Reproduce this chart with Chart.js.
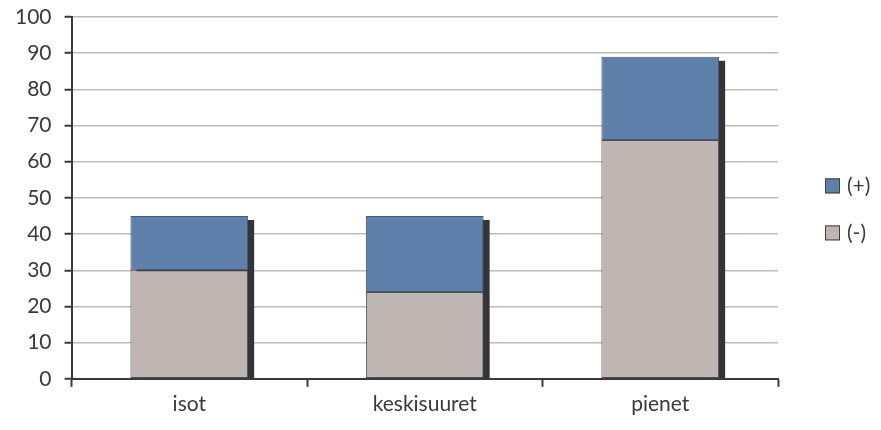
<!DOCTYPE html>
<html>
<head>
<meta charset="utf-8">
<script src="https://cdn.jsdelivr.net/npm/chart.js@4/dist/chart.umd.min.js"></script>
<style>
  html, body { margin: 0; padding: 0; background: #ffffff; }
  #wrap { width: 881px; height: 430px; }
</style>
</head>
<body>
<div id="wrap"><canvas id="c" width="881" height="430"></canvas></div>
<script>
// Company size groups and the split of answers in each group
const categories = ['isot', 'keskisuuret', 'pienet'];
const negativeValues = [30, 24, 66];   // (-)
const positiveValues = [15, 21, 23];   // (+)
const yTicks = { min: 0, max: 100, step: 10 };

const TEXT = '#3a3a3a';
const AXIS = '#3a3a3e';
const FONT = { family: 'Lato', size: 21 };

// Dark drop shadow behind each stacked column
const columnShadow = {
  id: 'columnShadow',
  beforeDatasetsDraw(chart) {
    const ctx = chart.ctx;
    const first = chart.getDatasetMeta(0).data;
    const last = chart.getDatasetMeta(chart.data.datasets.length - 1).data;
    ctx.save();
    ctx.fillStyle = '#333338';
    first.forEach((bottomBar, i) => {
      const topBar = last[i];
      const left = bottomBar.x - bottomBar.width / 2 + 6;
      const top = topBar.y + 4;
      ctx.fillRect(left, top, bottomBar.width, bottomBar.base - top);
    });
    ctx.restore();
  }
};

// Legend at the right, listed top segment first
const sideLegend = {
  id: 'sideLegend',
  afterDraw(chart) {
    const ctx = chart.ctx;
    const area = chart.chartArea;
    const items = chart.data.datasets.slice().reverse();
    const x = area.right + 47;
    const midY = (area.top + area.bottom) / 2;
    const gap = 47;
    ctx.save();
    ctx.font = FONT.size + 'px ' + FONT.family;
    ctx.textBaseline = 'middle';
    ctx.textAlign = 'left';
    items.forEach((ds, i) => {
      const cy = midY - 12 + i * gap;
      ctx.fillStyle = ds.backgroundColor;
      ctx.fillRect(x, cy - 7.5, 15, 15);
      ctx.strokeStyle = '#404040';
      ctx.lineWidth = 1;
      ctx.strokeRect(x + 0.5, cy - 7, 14, 14);
      ctx.fillStyle = TEXT;
      ctx.fillText(ds.label, x + 22, cy);
    });
    ctx.restore();
  }
};

new Chart(document.getElementById('c'), {
  type: 'bar',
  data: {
    labels: categories,
    datasets: [
      {
        label: '(-)',
        data: negativeValues,
        backgroundColor: '#bfb6b3',
        borderColor: '#4b4f5a',
        borderWidth: 1,
        borderSkipped: false
      },
      {
        label: '(+)',
        data: positiveValues,
        backgroundColor: '#5f80aa',
        borderColor: '#4b5870',
        borderWidth: 1,
        borderSkipped: false
      }
    ]
  },
  plugins: [columnShadow, sideLegend],
  options: {
    responsive: false,
    animation: false,
    devicePixelRatio: 1,
    layout: { padding: { top: 17, right: 103, left: 2, bottom: 8 } },
    datasets: { bar: { categoryPercentage: 1.0, barPercentage: 0.5 } },
    plugins: {
      tooltip: { enabled: false },
      legend: { display: false }
    },
    scales: {
      x: {
        stacked: true,
        grid: {
          offset: true,
          drawOnChartArea: false,
          drawTicks: true,
          tickLength: 8,
          tickColor: AXIS,
          tickWidth: 2
        },
        border: { color: AXIS, width: 2 },
        ticks: {
          color: TEXT,
          font: FONT,
          padding: 5
        }
      },
      y: {
        stacked: true,
        min: yTicks.min,
        max: yTicks.max,
        afterFit(scale) {
          // top tick label may overhang into the outer padding
          scale.paddingTop = 0;
        },
        grid: {
          color: '#c2bab7',
          lineWidth: 1.5,
          tickColor: AXIS,
          tickLength: 7,
          tickWidth: 2
        },
        border: { color: AXIS, width: 2 },
        ticks: {
          stepSize: yTicks.step,
          color: TEXT,
          font: FONT,
          padding: 13
        }
      }
    }
  }
});
</script>
</body>
</html>
